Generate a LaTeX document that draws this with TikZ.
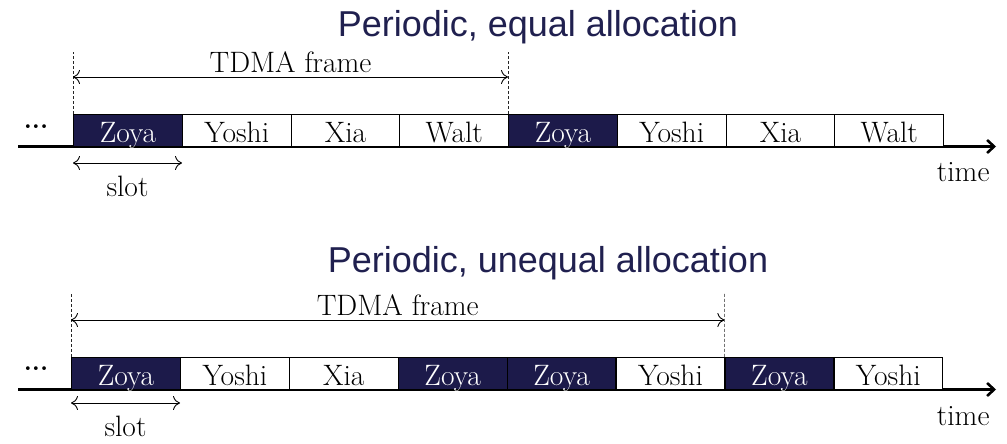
\documentclass[tikz,border=0pt]{standalone}
\usepackage{fontspec}
\newfontfamily\titlefont{Liberation Sans}
\usetikzlibrary{arrows.meta}
\definecolor{navy}{HTML}{1C1A4A}
\definecolor{titleblue}{HTML}{20204F}

\begin{document}
\begin{tikzpicture}[x=1pt,y=1pt,
  every node/.style={font=\fontsize{29.5}{33}\selectfont},
  slotbox/.style={draw=black, line width=1.2pt, minimum width=108.8pt,
    minimum height=32pt, inner sep=0pt, anchor=south west,
    text height=28pt, text depth=4pt},
  own/.style={slotbox, fill=navy, text=white},
  other/.style={slotbox, fill=white},
  axis/.style={line width=2.6pt, -{Straight Barb[length=7pt,width=13pt,line width=2.6pt]}},
  span/.style={line width=0.9pt, {To[length=7pt,width=14pt]}-{To[length=7pt,width=14pt]}},
  guide/.style={line width=0.6pt, dash pattern=on 3pt off 2pt, black!85},
  headline/.style={font=\titlefont\fontsize{36}{40}\selectfont, text=titleblue, anchor=base},
  ellip/.style={anchor=base, font=\fontsize{26}{30}\selectfont\bfseries},
]
\useasboundingbox (0,0) rectangle (1007,444);

% ---------- periodic, equal allocation ----------
\node[headline] (titleA) at (538,407) {Periodic, equal allocation};
\coordinate (axA-start) at (18,297.5);
\coordinate (axA-end) at (996,297.5);
\draw[axis] (axA-start) -- (axA-end);
\foreach \s/\t [count=\i from 0] in
  {own/Zoya,other/Yoshi,other/Xia,other/Walt,own/Zoya,other/Yoshi,other/Xia,other/Walt}
  \node[\s] (a\i) at (73+\i*108.75,297) {\t};
\node[ellip] (dotsA) at (36,315) {...};
\coordinate (gA-l) at (73,392);
\coordinate (gA-r) at (508,392);
\draw[guide] (a0.north west) -- (gA-l);
\draw[guide] (a4.north west) -- (gA-r);
\coordinate (fA-l) at (73,367);
\coordinate (fA-r) at (508,367);
\draw[span] (fA-l) -- node[above, inner sep=4pt] (frameA) {TDMA frame} (fA-r);
\coordinate (sA-l) at (73,281);
\coordinate (sA-r) at (182,281);
\draw[span] (sA-l) -- (sA-r);
\node[anchor=base] (slotA) at (127.5,247) {slot};
\node[anchor=base east] (timeA) at (993,262) {time};

% ---------- periodic, unequal allocation ----------
\node[headline] (titleB) at (548,171) {Periodic, unequal allocation};
\coordinate (axB-start) at (18,54.5);
\coordinate (axB-end) at (996,54.5);
\draw[axis] (axB-start) -- (axB-end);
\foreach \s/\t [count=\i from 0] in
  {own/Zoya,other/Yoshi,other/Xia,own/Zoya,own/Zoya,other/Yoshi,own/Zoya,other/Yoshi}
  \node[\s] (b\i) at (71+\i*108.9,54) {\t};
\node[ellip] (dotsB) at (36,73) {...};
\coordinate (gB-l) at (71,151);
\coordinate (gB-r) at (724.4,151);
\draw[guide] (b0.north west) -- (gB-l);
\draw[guide] (b6.north west) -- (gB-r);
\coordinate (fB-l) at (71,124);
\coordinate (fB-r) at (724.4,124);
\draw[span] (fB-l) -- node[above, inner sep=4pt] (frameB) {TDMA frame} (fB-r);
\coordinate (sB-l) at (71,41);
\coordinate (sB-r) at (180,41);
\draw[span] (sB-l) -- (sB-r);
\node[anchor=base] (slotB) at (125.5,7) {slot};
\node[anchor=base east] (timeB) at (993,18) {time};
\end{tikzpicture}
\end{document}
